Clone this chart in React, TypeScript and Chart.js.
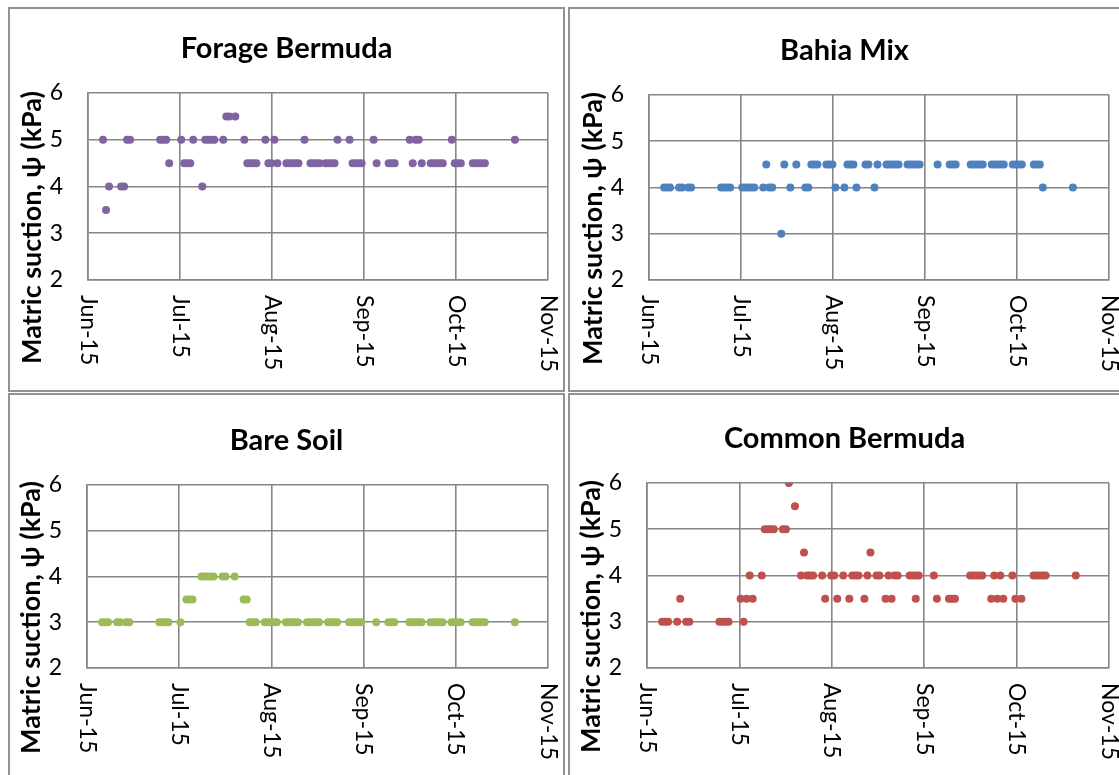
import React, { useEffect, useRef } from "react";
import { Chart, registerables } from "chart.js";

Chart.register(...registerables);

// Season runs from 1 Jun 2015 (day 0) to 1 Nov 2015 (day 153).
const SEASON_DAYS = 153;
const MONTH_LABELS = ["Jun-15", "Jul-15", "Aug-15", "Sep-15", "Oct-15", "Nov-15"];
const PSI_TICKS = [2, 3, 4, 5, 6];
const Y_TITLE = "Matric suction, ψ (kPa)";

// [day of season, matric suction kPa]
const forageBermuda: [number, number][] = [
  [5, 5], [13, 5], [14, 5], [24, 5], [25, 5], [26, 5], [31, 5], [35, 5], [39, 5], [40, 5], [41, 5], [42, 5],
  [45, 5], [52, 5], [59, 5], [62, 5], [72, 5], [83, 5], [87, 5], [95, 5], [107, 5], [109, 5], [110, 5],
  [121, 5], [142, 5],
  [46, 5.5], [47, 5.5], [49, 5.5],
  [27, 4.5], [32, 4.5], [33, 4.5], [34, 4.5], [53, 4.5], [54, 4.5], [55, 4.5], [56, 4.5], [60, 4.5],
  [61, 4.5], [63, 4.5], [66, 4.5], [67, 4.5], [68, 4.5], [69, 4.5], [70, 4.5], [74, 4.5], [75, 4.5],
  [76, 4.5], [77, 4.5], [79, 4.5], [80, 4.5], [81, 4.5], [82, 4.5], [88, 4.5], [89, 4.5], [90, 4.5],
  [91, 4.5], [96, 4.5], [100, 4.5], [101, 4.5], [102, 4.5], [108, 4.5], [111, 4.5], [114, 4.5],
  [115, 4.5], [116, 4.5], [117, 4.5], [118, 4.5], [122, 4.5], [123, 4.5], [124, 4.5], [128, 4.5],
  [129, 4.5], [130, 4.5], [131, 4.5], [132, 4.5],
  [7, 4], [11, 4], [12, 4], [38, 4],
  [6, 3.5],
];

const bahiaMix: [number, number][] = [
  [5, 4], [6, 4], [7, 4], [10, 4], [11, 4], [13, 4], [14, 4], [24, 4], [25, 4], [26, 4], [27, 4],
  [31, 4], [32, 4], [33, 4], [34, 4], [35, 4], [38, 4], [40, 4], [41, 4], [47, 4], [52, 4], [53, 4],
  [62, 4], [65, 4], [69, 4], [75, 4], [131, 4], [141, 4],
  [39, 4.5], [45, 4.5], [49, 4.5], [54, 4.5], [55, 4.5], [56, 4.5], [59, 4.5], [60, 4.5], [61, 4.5],
  [66, 4.5], [67, 4.5], [68, 4.5], [72, 4.5], [73, 4.5], [76, 4.5], [79, 4.5], [80, 4.5], [81, 4.5],
  [82, 4.5], [83, 4.5], [86, 4.5], [87, 4.5], [88, 4.5], [89, 4.5], [90, 4.5], [96, 4.5], [100, 4.5],
  [101, 4.5], [102, 4.5], [107, 4.5], [108, 4.5], [109, 4.5], [110, 4.5], [111, 4.5], [114, 4.5],
  [115, 4.5], [116, 4.5], [117, 4.5], [118, 4.5], [121, 4.5], [122, 4.5], [123, 4.5], [124, 4.5],
  [128, 4.5], [129, 4.5], [130, 4.5],
  [44, 3],
];

const bareSoil: [number, number][] = [
  [5, 3], [6, 3], [7, 3], [10, 3], [11, 3], [13, 3], [14, 3], [24, 3], [25, 3], [26, 3], [27, 3], [31, 3],
  [54, 3], [55, 3], [56, 3], [59, 3], [60, 3], [61, 3], [62, 3], [63, 3], [66, 3], [67, 3], [68, 3],
  [69, 3], [70, 3], [73, 3], [74, 3], [75, 3], [76, 3], [77, 3], [80, 3], [81, 3], [82, 3], [83, 3],
  [87, 3], [88, 3], [89, 3], [90, 3], [91, 3], [96, 3], [100, 3], [101, 3], [102, 3], [107, 3],
  [108, 3], [109, 3], [110, 3], [111, 3], [114, 3], [115, 3], [116, 3], [117, 3], [118, 3], [121, 3],
  [122, 3], [123, 3], [124, 3], [128, 3], [129, 3], [130, 3], [131, 3], [132, 3], [142, 3],
  [33, 3.5], [34, 3.5], [35, 3.5], [52, 3.5], [53, 3.5],
  [38, 4], [39, 4], [40, 4], [41, 4], [42, 4], [45, 4], [46, 4], [49, 4],
];

const commonBermuda: [number, number][] = [
  [5, 3], [6, 3], [7, 3], [10, 3], [13, 3], [14, 3], [24, 3], [25, 3], [26, 3], [27, 3], [32, 3],
  [11, 3.5], [31, 3.5], [33, 3.5], [35, 3.5], [59, 3.5], [63, 3.5], [67, 3.5], [72, 3.5], [79, 3.5],
  [81, 3.5], [89, 3.5], [96, 3.5], [100, 3.5], [101, 3.5], [102, 3.5], [114, 3.5], [116, 3.5],
  [118, 3.5], [122, 3.5], [124, 3.5],
  [34, 4], [38, 4], [51, 4], [53, 4], [54, 4], [55, 4], [58, 4], [61, 4], [62, 4], [65, 4], [68, 4],
  [69, 4], [70, 4], [73, 4], [76, 4], [77, 4], [80, 4], [82, 4], [83, 4], [87, 4], [88, 4], [89, 4],
  [90, 4], [95, 4], [107, 4], [108, 4], [109, 4], [110, 4], [111, 4], [115, 4], [117, 4], [121, 4],
  [128, 4], [129, 4], [130, 4], [131, 4], [132, 4], [142, 4],
  [52, 4.5], [74, 4.5],
  [39, 5], [40, 5], [41, 5], [42, 5], [45, 5], [46, 5],
  [49, 5.5],
  [47, 6],
];

const FONT = "Lato, 'Open Sans', 'DejaVu Sans', sans-serif";
const GRID = "#868686";
const FRAME = "#929292";
const BORDER = 2;

type Box = { x: number; y: number; w: number; h: number };
type Plot = { l: number; t: number; r: number; b: number };

type PanelProps = {
  title: string;
  points: [number, number][];
  color: string;
  box: Box;
  plot: Plot;
};

function Panel({ title, points, color, box, plot }: PanelProps) {
  const ref = useRef<HTMLCanvasElement | null>(null);
  const cw = box.w - 2 * BORDER;
  const ch = box.h - 2 * BORDER;

  useEffect(() => {
    const canvas = ref.current;
    if (!canvas) return;
    const ox = box.x + BORDER;
    const oy = box.y + BORDER;
    const pl = plot.l - ox;
    const pt = plot.t - oy;
    const pr = plot.r - ox;
    const pb = plot.b - oy;

    const decorations = {
      id: "panelText",
      afterDraw(chart: Chart) {
        const ctx = chart.ctx;
        const area = chart.chartArea;
        ctx.save();
        ctx.fillStyle = "#000";

        // chart title
        ctx.font = `bold 29px ${FONT}`;
        ctx.textAlign = "center";
        ctx.textBaseline = "alphabetic";
        ctx.fillText(title, chart.width / 2, area.top - 35);

        // vertical axis title
        ctx.save();
        ctx.translate(area.left - 47, (area.top + area.bottom) / 2 + 41);
        ctx.rotate(-Math.PI / 2);
        ctx.font = `bold 27px ${FONT}`;
        ctx.textAlign = "center";
        ctx.textBaseline = "alphabetic";
        ctx.fillText(Y_TITLE, 0, 0);
        ctx.restore();

        // month labels, turned to read downwards
        const xs = chart.scales.x;
        ctx.font = `23px ${FONT}`;
        ctx.textAlign = "left";
        ctx.textBaseline = "middle";
        xs.ticks.forEach((tick, i) => {
          const px = xs.getPixelForValue(tick.value);
          ctx.save();
          ctx.translate(px, area.bottom + 15);
          ctx.rotate(Math.PI / 2);
          ctx.fillText(MONTH_LABELS[i] ?? "", 0, 0);
          ctx.restore();
        });
        ctx.restore();
      },
    };

    const chart = new Chart(canvas, {
      type: "scatter",
      data: {
        datasets: [
          {
            data: points.map(([x, y]) => ({ x, y })),
            backgroundColor: color,
            borderColor: color,
            pointRadius: 4,
            pointBorderWidth: 0,
            showLine: false,
          },
        ],
      },
      options: {
        animation: false,
        responsive: false,
        devicePixelRatio: 1,
        layout: { padding: { top: pt, right: cw - pr, left: 0, bottom: 0 } },
        plugins: {
          legend: { display: false },
          tooltip: { enabled: false },
          title: { display: false },
        },
        scales: {
          x: {
            type: "linear",
            min: 0,
            max: SEASON_DAYS,
            afterBuildTicks: (s: any) => {
              s.ticks = MONTH_LABELS.map((_, i) => ({
                value: (i * SEASON_DAYS) / (MONTH_LABELS.length - 1),
              }));
            },
            afterFit: (s: any) => {
              s.height = ch - pb;
            },
            ticks: { display: false },
            grid: { color: GRID, lineWidth: 1.6, drawTicks: false },
            border: { color: GRID, width: 1.6 },
          },
          y: {
            type: "linear",
            min: 2,
            max: 6,
            afterBuildTicks: (s: any) => {
              s.ticks = PSI_TICKS.map((v) => ({ value: v }));
            },
            afterFit: (s: any) => {
              s.width = pl;
            },
            ticks: {
              color: "#000",
              padding: 25,
              font: { family: FONT, size: 23 },
            },
            grid: { color: GRID, lineWidth: 1.6, drawTicks: false },
            border: { color: GRID, width: 1.6 },
          },
        },
      },
      plugins: [decorations],
    });

    let alive = true;
    if (document.fonts && document.fonts.ready) {
      document.fonts.ready.then(() => {
        if (alive) chart.update();
      });
    }
    return () => {
      alive = false;
      chart.destroy();
    };
  }, [title, points, color, box, plot, cw, ch]);

  return (
    <div
      style={{
        position: "absolute",
        left: box.x,
        top: box.y,
        width: cw,
        height: ch,
        border: `${BORDER}px solid ${FRAME}`,
        background: "#fff",
        overflow: "hidden",
      }}
    >
      <canvas ref={ref} width={cw} height={ch} style={{ display: "block", width: cw, height: ch }} />
    </div>
  );
}

const PANELS: PanelProps[] = [
  {
    title: "Forage Bermuda",
    points: forageBermuda,
    color: "#8064A2",
    box: { x: 8, y: 7, w: 557, h: 385 },
    plot: { l: 88, t: 93, r: 548, b: 280 },
  },
  {
    title: "Bahia Mix",
    points: bahiaMix,
    color: "#4F81BD",
    box: { x: 568, y: 7, w: 553, h: 385 },
    plot: { l: 649, t: 95, r: 1109, b: 280 },
  },
  {
    title: "Bare Soil",
    points: bareSoil,
    color: "#9BBB59",
    box: { x: 8, y: 393, w: 557, h: 390 },
    plot: { l: 87, t: 485, r: 548, b: 668 },
  },
  {
    title: "Common Bermuda",
    points: commonBermuda,
    color: "#C0504D",
    box: { x: 568, y: 393, w: 553, h: 390 },
    plot: { l: 647, t: 483, r: 1109, b: 668 },
  },
];

export default function App() {
  return (
    <div
      style={{
        position: "absolute",
        left: 0,
        top: 0,
        width: 1119,
        height: 775,
        overflow: "hidden",
        background: "#fff",
      }}
    >
      {PANELS.map((p) => (
        <Panel key={p.title} {...p} />
      ))}
    </div>
  );
}
